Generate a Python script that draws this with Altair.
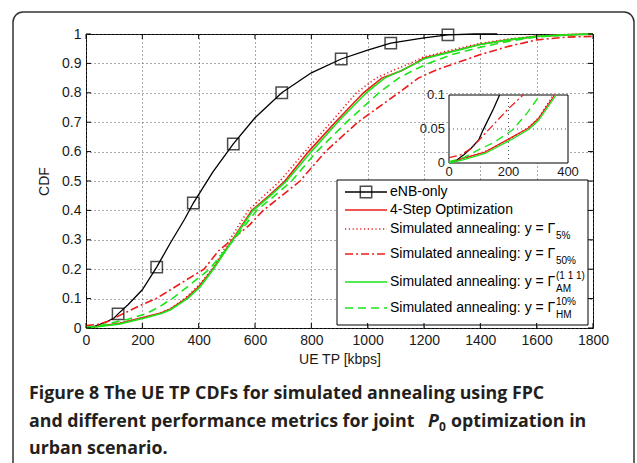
import altair as alt
import pandas as pd

# ---------------- data ----------------
enb_x = [0, 25, 50, 75, 100, 114, 150, 200, 251, 300, 350, 381, 450, 523, 600, 695, 800, 906, 1000, 1082, 1200, 1285, 1380, 1460]
enb_y = [0, 0.004, 0.012, 0.022, 0.034, 0.048, 0.08, 0.13, 0.207, 0.29, 0.37, 0.425, 0.53, 0.626, 0.715, 0.80, 0.868, 0.915, 0.945, 0.969, 0.987, 0.997, 1.0, 1.0]
enb_marker_x = [114, 251, 381, 523, 695, 906, 1082, 1285]
enb_marker_y = [0.048, 0.207, 0.425, 0.626, 0.80, 0.915, 0.969, 0.997]

step4_x = [0, 50, 121, 212, 266, 300, 355, 400, 450, 520, 589, 650, 706, 790, 885, 985, 1050, 1120, 1168, 1200, 1300, 1400, 1500, 1600, 1700, 1800]
step4_y = [0, 0.007, 0.016, 0.038, 0.051, 0.065, 0.1, 0.14, 0.2, 0.3, 0.4, 0.45, 0.5, 0.6, 0.7, 0.8, 0.85, 0.875, 0.9, 0.918, 0.941, 0.965, 0.98, 0.992, 0.997, 1.0]

sa5_x = [0, 50, 121, 200, 260, 300, 350, 400, 448, 510, 576, 632, 689, 777, 870, 960, 1030, 1100, 1150, 1200, 1300, 1400, 1500, 1600, 1700, 1800]
sa5_y = [0, 0.007, 0.017, 0.034, 0.05, 0.066, 0.1, 0.145, 0.2, 0.3, 0.4, 0.45, 0.5, 0.6, 0.7, 0.8, 0.85, 0.88, 0.9, 0.922, 0.946, 0.968, 0.983, 0.993, 0.998, 1.0]

sa50_x = [0, 40, 77, 118, 155, 200, 249, 300, 350, 419, 470, 530, 580, 629, 695, 760, 850, 965, 1110, 1180, 1250, 1310, 1400, 1500, 1600, 1700, 1800]
sa50_y = [0.008, 0.012, 0.022, 0.042, 0.059, 0.08, 0.1, 0.13, 0.16, 0.2, 0.262, 0.31, 0.35, 0.4, 0.45, 0.5, 0.6, 0.7, 0.8, 0.85, 0.88, 0.9, 0.93, 0.958, 0.98, 0.989, 0.992]

saam_x = [0, 50, 121, 212, 270, 300, 360, 405, 452, 522, 593, 655, 712, 800, 893, 995, 1060, 1125, 1172, 1200, 1300, 1400, 1500, 1600, 1700, 1800]
saam_y = [0, 0.005, 0.014, 0.035, 0.05, 0.062, 0.1, 0.14, 0.2, 0.3, 0.4, 0.45, 0.5, 0.6, 0.7, 0.8, 0.85, 0.878, 0.9, 0.916, 0.94, 0.964, 0.98, 0.992, 0.997, 1.0]

sahm_x = [0, 50, 97, 150, 212, 260, 306, 360, 438, 525, 606, 670, 730, 819, 925, 1040, 1110, 1170, 1215, 1300, 1400, 1500, 1600, 1700, 1800]
sahm_y = [0.002, 0.008, 0.019, 0.03, 0.048, 0.072, 0.1, 0.14, 0.2, 0.3, 0.4, 0.45, 0.5, 0.6, 0.7, 0.8, 0.85, 0.88, 0.9, 0.93, 0.955, 0.975, 0.99, 0.996, 1.0]

x_ticks = [0, 200, 400, 600, 800, 1000, 1200, 1400, 1600, 1800]
y_ticks = [0, 0.1, 0.2, 0.3, 0.4, 0.5, 0.6, 0.7, 0.8, 0.9, 1.0]
inset_x_ticks = [0, 200, 400]
inset_y_ticks = [0, 0.05, 0.1]
inset_y_labels = ["0", "0.05", "0.1"]

legend_labels = ["eNB-only", "4-Step Optimization", "Simulated annealing: y = \u0393",
                 "Simulated annealing: y = \u0393", "Simulated annealing: y = \u0393",
                 "Simulated annealing: y = \u0393"]
legend_subs = ["", "", "5%", "50%", "AM", "HM"]
legend_sups = ["", "", "", "", "(1 1 1)", "10%"]

caption_1 = "Figure 8 The UE TP CDFs for simulated annealing using FPC"
caption_2a = "and different performance metrics for joint"
caption_2p = "P"
caption_2s = "0"
caption_2b = "optimization in"
caption_3 = "urban scenario."

# ---------------- layout / style ----------------
OX, OY = 86, 34          # plot origin in the page
W, H = 507, 294          # plot area
FONT = "Liberation Sans"
RED = "#ee1b1b"
GREEN = "#19e619"

styles = [
    dict(x=enb_x, y=enb_y, color="#000000", dash=None, w=1.3),
    dict(x=step4_x, y=step4_y, color=RED, dash=None, w=1.6),
    dict(x=sa5_x, y=sa5_y, color=RED, dash=[1.2, 2.6], w=1.6),
    dict(x=sa50_x, y=sa50_y, color=RED, dash=[8, 3, 2, 3], w=1.6),
    dict(x=saam_x, y=saam_y, color=GREEN, dash=None, w=1.6),
    dict(x=sahm_x, y=sahm_y, color=GREEN, dash=[8, 5], w=1.6),
]
legend_rows_y = [192, 210, 229, 254, 282, 308]

one = pd.DataFrame({"k": [0]})


def V(v):
    return alt.value(v)


def line_mark(s, width=None):
    kw = dict(color=s["color"], strokeWidth=width or s["w"])
    if s["dash"]:
        kw["strokeDash"] = s["dash"]
    return kw


# ---------------- main plot ----------------
xs = alt.Scale(domain=[0, 1800], nice=False, zero=False)
ys = alt.Scale(domain=[0, 1], nice=False, zero=False)
x_axis = alt.Axis(values=x_ticks, format="d", grid=True, gridDash=[1, 3], gridColor="#555",
                  ticks=False, domain=False, labelFont=FONT, labelFontSize=14, labelColor="#1a1a1a",
                  labelPadding=5, labelFlush=False, labelOverlap=False,
                  title="UE TP [kbps]", titleFont=FONT, titleFontSize=14,
                  titleFontWeight="normal", titleColor="#1a1a1a", titlePadding=5)
y_axis = alt.Axis(values=y_ticks, format="~g", grid=True, gridDash=[1, 3], gridColor="#555",
                  ticks=False, domain=False, labelFont=FONT, labelFontSize=14, labelColor="#1a1a1a",
                  labelPadding=5, labelFlush=False, labelOverlap=False,
                  title="CDF", titleFont=FONT, titleFontSize=14,
                  titleFontWeight="normal", titleColor="#1a1a1a", titlePadding=10)

main_layers = []
for s in styles:
    df = pd.DataFrame({"x": s["x"], "y": s["y"]})
    main_layers.append(
        alt.Chart(df).mark_line(**line_mark(s)).encode(
            x=alt.X("x:Q", scale=xs, axis=x_axis),
            y=alt.Y("y:Q", scale=ys, axis=y_axis),
        )
    )
mk = pd.DataFrame({"x": enb_marker_x, "y": enb_marker_y})
main_layers.append(
    alt.Chart(mk).mark_point(shape="square", filled=False, size=130, color="black", strokeWidth=1.5).encode(
        x=alt.X("x:Q", scale=xs, axis=x_axis), y=alt.Y("y:Q", scale=ys, axis=y_axis)
    )
)

# legend box
legend_layers = [
    alt.Chart(one).mark_rect(fill="white", stroke="black", strokeWidth=1).encode(
        x=V(337 - OX), x2=V(588 - OX), y=V(180 - OY), y2=V(325 - OY))
]
for i, s in enumerate(styles):
    ry = legend_rows_y[i] - OY
    legend_layers.append(
        alt.Chart(one).mark_rule(**line_mark(s)).encode(x=V(345 - OX), x2=V(387 - OX), y=V(ry)))
    legend_layers.append(
        alt.Chart(one).mark_text(align="left", baseline="middle", font=FONT, fontSize=14, color="black").encode(
            x=V(390 - OX), y=V(ry), text=V(legend_labels[i])))
    if legend_subs[i]:
        legend_layers.append(
            alt.Chart(one).mark_text(align="left", baseline="middle", font=FONT, fontSize=10, color="black").encode(
                x=V(556 - OX), y=V(ry + 7), text=V(legend_subs[i])))
    if legend_sups[i]:
        legend_layers.append(
            alt.Chart(one).mark_text(align="left", baseline="middle", font=FONT, fontSize=10, color="black").encode(
                x=V(556 - OX), y=V(ry - 6), text=V(legend_sups[i])))
legend_layers.append(
    alt.Chart(one).mark_point(shape="square", filled=False, size=130, color="black", strokeWidth=1.5).encode(
        x=V(366 - OX), y=V(legend_rows_y[0] - OY)))

# inward ticks on all four sides
xt = pd.DataFrame({"x": x_ticks})
yt = pd.DataFrame({"y": y_ticks})
TK = 5
tick_layers = [
    alt.Chart(xt).mark_rule(color="black", strokeWidth=1).encode(
        x=alt.X("x:Q", scale=xs, axis=x_axis), y=V(H), y2=V(H - TK)),
    alt.Chart(xt).mark_rule(color="black", strokeWidth=1).encode(
        x=alt.X("x:Q", scale=xs, axis=x_axis), y=V(0), y2=V(TK)),
    alt.Chart(yt).mark_rule(color="black", strokeWidth=1).encode(
        y=alt.Y("y:Q", scale=ys, axis=y_axis), x=V(0), x2=V(TK)),
    alt.Chart(yt).mark_rule(color="black", strokeWidth=1).encode(
        y=alt.Y("y:Q", scale=ys, axis=y_axis), x=V(W), x2=V(W - TK)),
]

main = alt.layer(*main_layers, *legend_layers, *tick_layers)

# ---------------- inset ----------------
IX0, IX1 = 449 - OX, 568 - OX
IY0, IY1 = 95 - OY, 163 - OY
ixs = alt.Scale(domain=[0, 400], range=[IX0, IX1], nice=False, zero=False)
iys = alt.Scale(domain=[0, 0.1], range=[IY1, IY0], nice=False, zero=False)


def clip_inset(xv, yv, xmax=400, ymax=0.1):
    px, py = [], []
    for i in range(len(xv)):
        if yv[i] <= ymax and xv[i] <= xmax:
            px.append(xv[i]); py.append(yv[i])
        else:
            if i > 0:
                t = (ymax - yv[i - 1]) / (yv[i] - yv[i - 1])
                px.append(xv[i - 1] + t * (xv[i] - xv[i - 1])); py.append(ymax)
            break
    return px, py


frame = pd.DataFrame({"x0": [inset_x_ticks[0]], "x1": [inset_x_ticks[-1]],
                      "y0": [inset_y_ticks[0]], "y1": [inset_y_ticks[-1]]})
inset_layers = [
    alt.Chart(frame).mark_rect(fill="white", stroke="black", strokeWidth=1).encode(
        x=alt.X("x0:Q", scale=ixs, axis=None), x2="x1:Q",
        y=alt.Y("y0:Q", scale=iys, axis=None), y2="y1:Q"),
    alt.Chart(pd.DataFrame({"x": [inset_x_ticks[1]], "y0": [0], "y1": [inset_y_ticks[-1]]}))
    .mark_rule(color="#555", strokeDash=[1, 3]).encode(
        x=alt.X("x:Q", scale=ixs, axis=None), y=alt.Y("y0:Q", scale=iys, axis=None), y2="y1:Q"),
    alt.Chart(pd.DataFrame({"y": [inset_y_ticks[1]], "x0": [0], "x1": [inset_x_ticks[-1]]}))
    .mark_rule(color="#555", strokeDash=[1, 3]).encode(
        y=alt.Y("y:Q", scale=iys, axis=None), x=alt.X("x0:Q", scale=ixs, axis=None), x2="x1:Q"),
]
for s in styles:
    cx, cy = clip_inset(s["x"], s["y"])
    inset_layers.append(
        alt.Chart(pd.DataFrame({"x": cx, "y": cy})).mark_line(**line_mark(s, 1.3)).encode(
            x=alt.X("x:Q", scale=ixs, axis=None), y=alt.Y("y:Q", scale=iys, axis=None)))
inset_layers.append(
    alt.Chart(pd.DataFrame({"x": inset_x_ticks, "t": [str(v) for v in inset_x_ticks]}))
    .mark_text(baseline="top", font=FONT, fontSize=13, color="#1a1a1a").encode(
        x=alt.X("x:Q", scale=ixs, axis=None), y=V(IY1 + 3), text="t:N"))
inset_layers.append(
    alt.Chart(pd.DataFrame({"y": inset_y_ticks, "t": inset_y_labels}))
    .mark_text(align="right", baseline="middle", font=FONT, fontSize=13, color="#1a1a1a").encode(
        y=alt.Y("y:Q", scale=iys, axis=None), x=V(IX0 - 4), text="t:N"))
inset = alt.layer(*inset_layers)

# ---------------- frame and caption ----------------
CF = "Open Sans"
CS = 17.8
CC = "#231f20"
deco = [
    alt.Chart(one).mark_rect(fillOpacity=0, stroke="#333", strokeWidth=1.5, cornerRadius=10).encode(
        x=V(13 - OX), x2=V(634 - OX), y=V(12 - OY), y2=V(472 - OY)),
    alt.Chart(one).mark_text(align="left", baseline="alphabetic", font=CF, fontSize=CS, fontWeight="bold", color=CC).encode(
        x=V(29 - OX), y=V(399 - OY), text=V(caption_1)),
    alt.Chart(one).mark_text(align="left", baseline="alphabetic", font=CF, fontSize=CS, fontWeight="bold", color=CC).encode(
        x=V(29 - OX), y=V(427 - OY), text=V(caption_2a)),
    alt.Chart(one).mark_text(align="left", baseline="alphabetic", font=CF, fontSize=CS, fontWeight="bold", fontStyle="italic", color=CC).encode(
        x=V(428 - OX), y=V(427 - OY), text=V(caption_2p)),
    alt.Chart(one).mark_text(align="left", baseline="alphabetic", font=CF, fontSize=12, fontWeight="bold", color=CC).encode(
        x=V(439 - OX), y=V(431 - OY), text=V(caption_2s)),
    alt.Chart(one).mark_text(align="left", baseline="alphabetic", font=CF, fontSize=CS, fontWeight="bold", color=CC).encode(
        x=V(451 - OX), y=V(427 - OY), text=V(caption_2b)),
    alt.Chart(one).mark_text(align="left", baseline="alphabetic", font=CF, fontSize=CS, fontWeight="bold", color=CC).encode(
        x=V(29 - OX), y=V(454 - OY), text=V(caption_3)),
]

chart = alt.layer(main, inset, *deco).resolve_scale(x="independent", y="independent").properties(
    width=W, height=H, autosize="none",
    padding={"left": OX, "top": OY, "right": 637 - OX - W, "bottom": 463 - OY - H},
    background="white",
).configure_view(stroke="black", strokeWidth=1)

chart.save("out.html", embed_options={"renderer": "svg", "actions": False})
